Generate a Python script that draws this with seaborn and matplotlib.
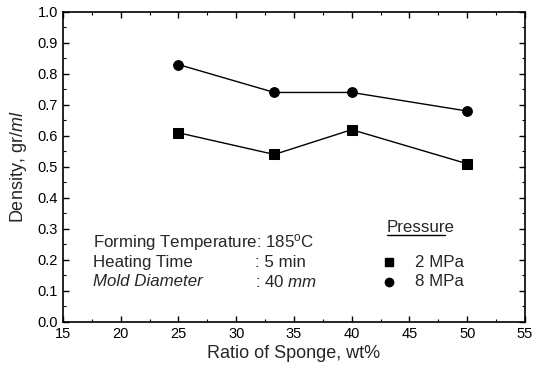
import numpy as np
import pandas as pd
import matplotlib
matplotlib.use("Agg")
import matplotlib.pyplot as plt
import seaborn as sns
from matplotlib.ticker import MultipleLocator

# data
sponge_ratio = [25, 33.3, 40, 50]
density_2mpa = [0.61, 0.54, 0.62, 0.51]
density_8mpa = [0.83, 0.74, 0.74, 0.68]
pressure_labels = ["2 MPa", "8 MPa"]

df = pd.DataFrame({
    "ratio": sponge_ratio * 2,
    "density": density_2mpa + density_8mpa,
    "pressure": [pressure_labels[0]] * 4 + [pressure_labels[1]] * 4,
})

sns.set_style("ticks")
plt.rcParams["font.family"] = ["Liberation Sans", "DejaVu Sans"]
plt.rcParams["mathtext.fontset"] = "custom"
plt.rcParams["mathtext.rm"] = "Liberation Sans"
plt.rcParams["mathtext.it"] = "Liberation Sans:italic"

fig = plt.figure(figsize=(5.33, 3.70), dpi=100)
ax = fig.add_axes([0.118, 0.130, 0.867, 0.838])

sns.lineplot(data=df, x="ratio", y="density", style="pressure",
             markers={"2 MPa": "s", "8 MPa": "o"}, dashes=False,
             color="black", linewidth=1.0, markersize=7,
             markeredgecolor="black", ax=ax, legend=False)

ax.set_xlim(15, 55)
ax.set_ylim(0.0, 1.0)
ax.xaxis.set_major_locator(MultipleLocator(5))
ax.xaxis.set_minor_locator(MultipleLocator(2.5))
ax.yaxis.set_major_locator(MultipleLocator(0.1))
ax.yaxis.set_minor_locator(MultipleLocator(0.05))
ax.tick_params(which="both", direction="in", top=True, right=True,
               labeltop=False, labelright=False, colors="black", labelsize=10.5)
ax.tick_params(which="major", length=4, width=1)
ax.tick_params(which="minor", length=2, width=0.8)
ax.set_yticklabels([f"{v:.1f}" for v in ax.get_yticks()])
for s in ax.spines.values():
    s.set_linewidth(1.2)
    s.set_color("black")

ax.set_xlabel("Ratio of Sponge, wt%", fontsize=13, labelpad=3)
ax.set_ylabel("Density, gr/$\\mathit{ml}$", fontsize=13, labelpad=6)

# conditions text
fs = 12.2
x0, xc = 17.6, 31.6
ax.text(x0, 0.255, "Forming Temperature: 185$^{\\rm o}$C", fontsize=fs, va="center")
ax.text(x0, 0.192, "Heating Time", fontsize=fs, va="center")
ax.text(xc, 0.192, ": 5 min", fontsize=fs, va="center")
ax.text(x0, 0.129, "Mold Diameter", fontsize=fs, style="italic", va="center")
ax.text(xc, 0.129, ": 40 $\\mathit{mm}$", fontsize=fs, va="center")

# legend
ax.text(43.05, 0.306, "Pressure", fontsize=12.2, va="center")
ax.plot([43.05, 48.1], [0.281, 0.281], color="black", linewidth=1)
ax.plot([43.2], [0.192], marker="s", color="black", markersize=5.5)
ax.plot([43.2], [0.129], marker="o", color="black", markersize=6)
ax.text(45.5, 0.192, pressure_labels[0], fontsize=fs, va="center")
ax.text(45.5, 0.129, pressure_labels[1], fontsize=fs, va="center")

fig.savefig("out.png", dpi=100)
